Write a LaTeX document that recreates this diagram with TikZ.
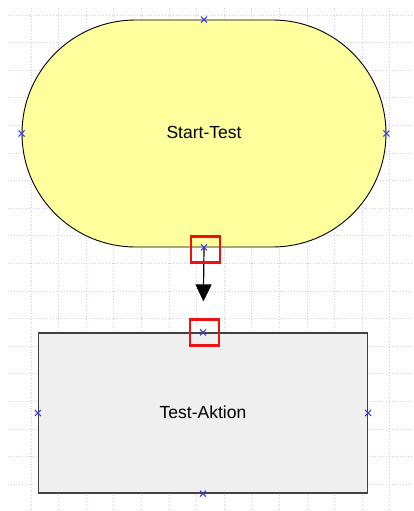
\documentclass[tikz,border=0pt]{standalone}
\usepackage{fontspec}
\setmainfont{Liberation Sans}
\usetikzlibrary{positioning,arrows.meta}
\definecolor{termfill}{HTML}{FFFF9E}
\definecolor{actfill}{HTML}{EFEFEF}
\definecolor{gridcol}{HTML}{CDCDEA}
\definecolor{pinblue}{HTML}{3A3ADD}
\definecolor{hired}{HTML}{EE1111}
\newcommand{\pinx}[1]{\draw[xcross] (#1) +(-3,-3) -- +(3,3) (#1) +(-3,3) -- +(3,-3);}

\begin{document}
\begin{tikzpicture}[
  x=1pt, y=-1pt,
  gridline/.style={gridcol, dotted, line width=0.8pt},
  terminal/.style={draw=black, line width=0.9pt, fill=termfill, rounded corners=113.5pt,
                   minimum width=364pt, minimum height=227pt, inner sep=0pt,
                   font=\fontsize{17.5}{20}\selectfont},
  action/.style={draw=black!75, line width=1.2pt, fill=actfill,
                 minimum width=329pt, minimum height=160pt, inner sep=0pt,
                 font=\fontsize{17.5}{20}\selectfont},
  xcross/.style={pinblue, line width=1.1pt},
  hilite/.style={draw=hired, line width=2.8pt, minimum width=29pt, minimum height=26pt, inner sep=0pt},
  arr/.style={-{Triangle[length=17pt,width=16pt]}, line width=1.2pt, black}
]
  \useasboundingbox (0,0) rectangle (414,511);

  % grid
  \foreach \gx in {0,...,13}
    \draw[gridline] (31+27.6*\gx, 8) -- (31+27.6*\gx, 511);
  \foreach \gy in {0,...,17}
    \draw[gridline] (8, 15+27.6*\gy) -- (414, 15+27.6*\gy);

  % nodes
  \node[terminal] (start) at (204, 133.5) {\raisebox{2pt}{Start-Test}};
  \node[action] (aktion) at (203, 413) {\raisebox{1pt}{Test-Aktion}};

  % connector
  \draw[arr, shorten >=31pt] (start.south) -- (aktion.north);

  % connection points
  \pinx{start.north}
  \pinx{start.west}
  \pinx{start.east}
  \pinx{start.south}
  \pinx{aktion.north}
  \pinx{aktion.west}
  \pinx{aktion.east}
  \pinx{aktion.south}

  % selected points
  \node[hilite] (selA) at ([xshift=1.5pt, yshift=-2pt]start.south) {};
  \node[hilite] (selB) at ([xshift=1.5pt]aktion.north) {};
\end{tikzpicture}
\end{document}
